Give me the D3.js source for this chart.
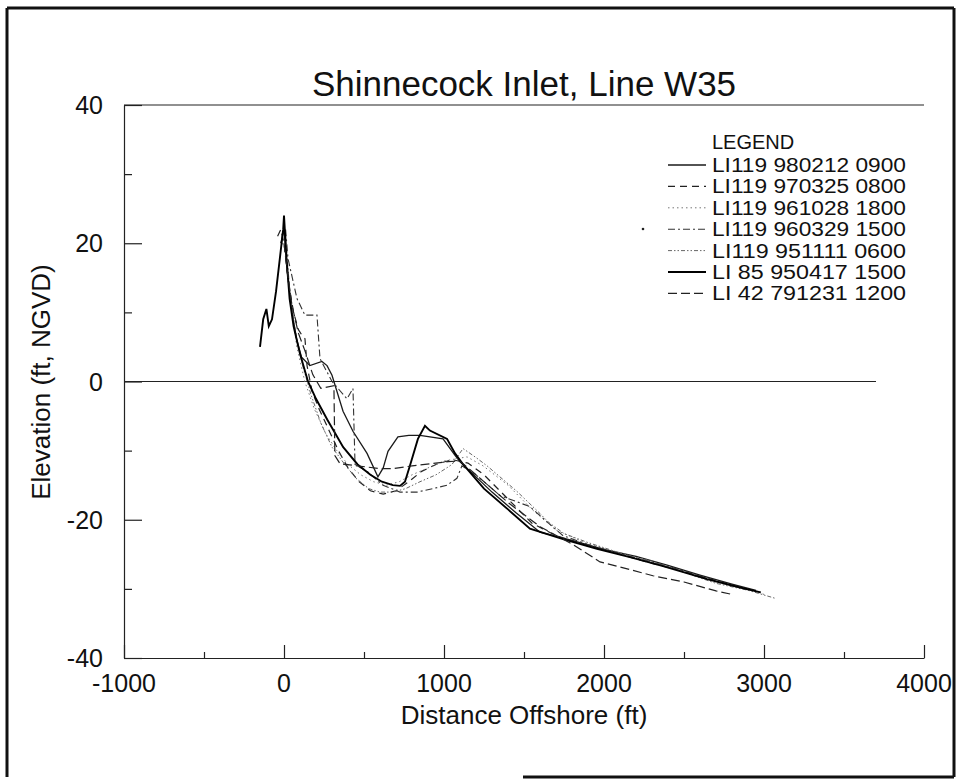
<!DOCTYPE html>
<html>
<head>
<meta charset="utf-8">
<script src="https://cdn.jsdelivr.net/npm/d3@7"></script>
<style>
  html, body { margin: 0; padding: 0; background: #fff; }
  svg { display: block; }
  text { font-family: "Liberation Sans", Arial, Helvetica, sans-serif; fill: #111; }
</style>
</head>
<body>
<svg id="chart" width="959" height="781"></svg>
<script>
// ---------------- DATA ----------------
const chartTitle = "Shinnecock Inlet, Line W35";
const xAxisTitle = "Distance Offshore (ft)";
const yAxisTitle = "Elevation (ft, NGVD)";
const xTicks = [-1000, 0, 1000, 2000, 3000, 4000];
const yTicks = [-40, -20, 0, 20, 40];
const legendTitle = "LEGEND";
const seriesNames = [
  "LI119 980212 0900",
  "LI119 970325 0800",
  "LI119 961028 1800",
  "LI119 960329 1500",
  "LI119 951111 0600",
  "LI 85 950417 1500",
  "LI 42 791231 1200"
];

// distance (ft) / elevation (ft) pairs per survey
const s980212 = [[-20,20],[0,22],[20,16],[50,10],[80,6],[110,3.5],[162,2.3],[237,2.9],[269,2.3],[300,0.9],[369,-4.3],[431,-7.2],[519,-10.4],[587,-13.8],[620,-12.5],[650,-10.1],[712,-8],[780,-7.8],[850,-7.8],[994,-8.3],[1069,-10.7],[1100,-11.6],[1200,-13.8],[1300,-16],[1450,-19],[1600,-21.8],[1800,-23],[2000,-24.3],[2200,-25.3],[2400,-26.6],[2600,-28],[2800,-29.3],[2950,-30.2]];
const s970325 = [[-40,21],[-20,22],[0,20],[30,14],[60,10],[90,7.5],[112,6.7],[131,6.2],[144,2.3],[175,-1.4],[220,-4],[280,-7],[340,-10],[400,-12.5],[470,-14.5],[540,-15.8],[620,-16.3],[700,-15.8],[780,-14.5],[860,-13],[950,-12],[1050,-11.3],[1150,-11.8],[1250,-13.5],[1400,-17],[1550,-20.5],[1700,-22.3],[1900,-23.8],[2100,-25],[2300,-26.3],[2500,-27.5],[2700,-28.8],[2850,-29.8]];
const s961028 = [[-10,20],[10,19],[40,12],[80,5],[130,0],[190,-4],[260,-7.5],[330,-10],[400,-12],[480,-13.5],[560,-14.5],[640,-15],[720,-14.5],[800,-13.5],[900,-12.5],[1000,-11.5],[1144,-10.9],[1244,-12.2],[1400,-15],[1550,-18.5],[1700,-21.5],[1900,-23.5],[2100,-24.8],[2300,-26],[2500,-27.5],[2700,-29],[2900,-30],[3000,-30.8]];
const s960329 = [[10,22],[25,17.8],[81,12],[131,9.6],[206,9.6],[225,3.3],[300,0],[394,-2.5],[431,-1],[444,-12],[519,-13],[619,-15],[725,-16],[831,-16],[931,-15.5],[1019,-15],[1081,-14],[1112,-12.2],[1200,-13.5],[1350,-16.5],[1537,-18.1],[1644,-20.3],[1744,-22.3],[1900,-23.6],[2100,-24.9],[2300,-26.1],[2500,-27.4],[2700,-28.9],[2900,-30.1]];
const s951111 = [[10,21],[40,12],[80,6],[120,2],[170,-2],[230,-6],[300,-9.5],[380,-12],[450,-14],[530,-15.5],[600,-16],[680,-16],[760,-15.5],[850,-14.5],[950,-13.5],[1050,-12],[1119,-9.7],[1200,-11],[1269,-12.2],[1456,-15.9],[1600,-19.1],[1650,-20.3],[1750,-22],[1900,-23.3],[2100,-24.8],[2400,-26.8],[2700,-29.2],[2900,-30.2],[3075,-31.4]];
const s950417 = [[-150,5],[-130,9],[-110,10.5],[-95,8],[-75,9],[-50,13],[-25,18],[-5,22],[0,24],[15,18],[35,12],[60,8],[100,4],[150,0],[200,-2.5],[270,-5.5],[370,-9.5],[460,-12],[540,-13.5],[612,-14.5],[680,-15],[725,-15.1],[756,-14.5],[787,-12.2],[837,-8.3],[881,-6.4],[912,-7.1],[1019,-8.3],[1069,-10.4],[1120,-12],[1250,-15.5],[1400,-18.5],[1537,-21.3],[1744,-22.8],[1956,-24.2],[2162,-25.4],[2369,-26.7],[2644,-28.6],[2850,-29.8],[2980,-30.5]];
const s791231 = [[0,20],[20,16],[50,11],[90,7],[130,4.5],[180,1],[230,-1],[312,-0.6],[318,-10.7],[350,-11.9],[456,-12.2],[600,-12.6],[681,-12.6],[800,-12.2],[912,-11.9],[1025,-11.6],[1100,-11.5],[1200,-13.5],[1400,-17.5],[1600,-21],[1800,-23.5],[1975,-26.1],[2162,-27.2],[2306,-28.1],[2500,-29],[2700,-30.3],[2800,-30.8]];

const seriesData = [s980212, s970325, s961028, s960329, s951111, s950417, s791231];

// ---------------- STYLES ----------------
const styles = [
  { dash: null,            width: 1.3, color: "#1a1a1a" },
  { dash: "7,5",           width: 1.2, color: "#222" },
  { dash: "1.5,3",         width: 1.0, color: "#777" },
  { dash: "7,3,2,3",       width: 1.1, color: "#333" },
  { dash: "4,2,1.5,2,1.5,2", width: 1.0, color: "#666" },
  { dash: null,            width: 1.9, color: "#000" },
  { dash: "9,4",           width: 1.2, color: "#222" }
];

// ---------------- LAYOUT ----------------
const svg = d3.select("#chart");
const x = d3.scaleLinear().domain([-1000, 4000]).range([124, 924]);
const y = d3.scaleLinear().domain([-40, 40]).range([658, 105]);

// page frame
const frame = svg.append("g").attr("stroke", "#111").attr("stroke-width", 3);
frame.append("line").attr("x1", 7).attr("x2", 954).attr("y1", 8).attr("y2", 8);
frame.append("line").attr("x1", 7).attr("x2", 7).attr("y1", 8).attr("y2", 777);
frame.append("line").attr("x1", 954).attr("x2", 954).attr("y1", 8).attr("y2", 777);
frame.append("line").attr("x1", 523).attr("x2", 954).attr("y1", 777).attr("y2", 777);

// title
svg.append("text").attr("x", 524).attr("y", 96).attr("text-anchor", "middle")
  .attr("font-size", 35).text(chartTitle);

// axes
const xAxis = d3.axisBottom(x).tickValues(d3.range(-1000, 4001, 500)).tickSizeInner(-6).tickSizeOuter(0).tickFormat("");
const gx = svg.append("g").attr("transform", `translate(0,${y(-40)})`).call(xAxis);
gx.selectAll(".tick line").filter(d => d % 1000 === 0).attr("y2", -13);
gx.selectAll("path, line").attr("stroke", "#222").attr("stroke-width", 1.2);

const yAxis = d3.axisLeft(y).tickValues(d3.range(-40, 41, 10)).tickSizeInner(-8).tickSizeOuter(0).tickFormat("");
const gy = svg.append("g").attr("transform", `translate(${x(-1000)},0)`).call(yAxis);
gy.selectAll(".tick line").filter(d => d % 20 === 0).attr("x2", 18);
gy.selectAll("path, line").attr("stroke", "#222").attr("stroke-width", 1.2);

// top frame line at 40
svg.append("line").attr("x1", x(-1000)).attr("x2", x(4000)).attr("y1", y(40)).attr("y2", y(40))
  .attr("stroke", "#222").attr("stroke-width", 1.2);
// zero line
svg.append("line").attr("x1", x(-1000)).attr("x2", x(3700)).attr("y1", y(0)).attr("y2", y(0))
  .attr("stroke", "#222").attr("stroke-width", 1.2);

// tick labels
svg.append("g").selectAll("text").data(xTicks).join("text")
  .attr("x", d => x(d)).attr("y", 692).attr("text-anchor", "middle")
  .attr("font-size", 25).text(d => d);
svg.append("g").selectAll("text").data(yTicks).join("text")
  .attr("x", 103).attr("y", d => y(d) + 9).attr("text-anchor", "end")
  .attr("font-size", 25).text(d => d);

// axis titles
svg.append("text").attr("x", 524).attr("y", 724).attr("text-anchor", "middle")
  .attr("font-size", 26).text(xAxisTitle);
svg.append("text").attr("transform", "translate(50,382) rotate(-90)").attr("text-anchor", "middle")
  .attr("font-size", 26).text(yAxisTitle);

// series
const line = d3.line().x(d => x(d[0])).y(d => y(d[1]));
const gs = svg.append("g").attr("fill", "none");
seriesData.forEach((data, i) => {
  gs.append("path").datum(data).attr("d", line)
    .attr("stroke", styles[i].color).attr("stroke-width", styles[i].width)
    .attr("stroke-dasharray", styles[i].dash);
});

// legend
const lg = svg.append("g");
lg.append("text").attr("x", 712).attr("y", 149).attr("font-size", 20).text(legendTitle);
seriesNames.forEach((name, i) => {
  const yy = 165 + i * 21.4;
  lg.append("line").attr("x1", 668).attr("x2", 706).attr("y1", yy).attr("y2", yy)
    .attr("stroke", styles[i].color).attr("stroke-width", styles[i].width)
    .attr("stroke-dasharray", styles[i].dash);
  lg.append("text").attr("x", 712).attr("y", yy + 7).attr("font-size", 20)
    .attr("textLength", 194).attr("lengthAdjust", "spacingAndGlyphs").text(name);
});
// stray scan dot beside the legend
svg.append("circle").attr("cx", 643).attr("cy", 229).attr("r", 1.3).attr("fill", "#222");
</script>
</body>
</html>
